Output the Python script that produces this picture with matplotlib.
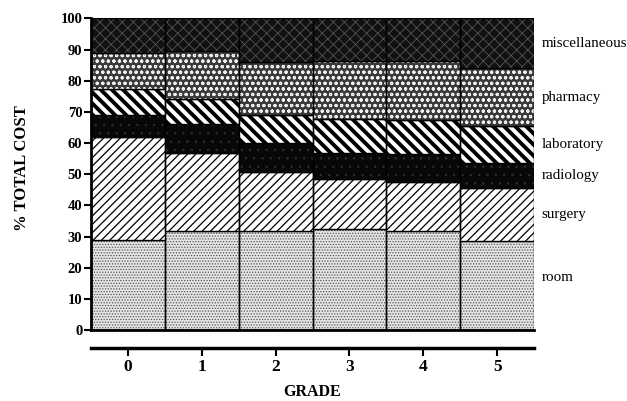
import numpy as np
import matplotlib
matplotlib.use("Agg")
import matplotlib.pyplot as plt

# Datos (% del coste total por grado)
grados = [0, 1, 2, 3, 4, 5]
room = [28.8, 31.9, 31.8, 32.4, 31.8, 28.6]
surgery = [33.2, 24.8, 18.9, 16.0, 15.7, 16.9]
radiology = [7.0, 9.4, 9.2, 8.3, 9.0, 8.0]
laboratory = [8.2, 8.0, 9.1, 10.9, 10.9, 11.9]
pharmacy = [11.6, 15.4, 16.9, 18.8, 18.8, 18.6]
miscellaneous = [11.2, 10.5, 14.1, 13.6, 13.8, 16.0]

nombres = ["room", "surgery", "radiology", "laboratory", "pharmacy", "miscellaneous"]
series = [room, surgery, radiology, laboratory, pharmacy, miscellaneous]

# Estilo de relleno de cada categoria: (color de fondo, trama, color de trama, grosor de trama)
estilos = [
    ("#e4e4e4", "......", "#555555", 0.6),
    ("white", "////", "black", 0.9),
    ("#080808", "..", "#303030", 0.5),
    ("white", "\\\\\\", "black", 2.8),
    ("#3a3a3a", "ooo", "#f0f0f0", 0.8),
    ("#111111", "xxx", "#555555", 0.6),
]

serif = "Liberation Serif"

fig = plt.figure(figsize=(6.27, 4.01), dpi=100)
ax = fig.add_axes([0.1447, 0.177, 0.7075, 0.777])

base = np.zeros(len(grados))
for nombre, valores, (fc, hatch, hc, hlw) in zip(nombres, series, estilos):
    valores = np.array(valores)
    with plt.rc_context({"hatch.linewidth": hlw, "hatch.color": hc}):
        barras = ax.bar(grados, valores, width=1.0, bottom=base, color=fc,
                        edgecolor=hc, hatch=hatch, linewidth=0)
        for b in barras:
            if hasattr(b, "set_hatch_linewidth"):
                b.set_hatch_linewidth(hlw)
    ax.bar(grados, valores, width=1.0, bottom=base, fill=False,
           edgecolor="black", linewidth=1.0)
    # Etiqueta a la derecha del ultimo grado
    medio = base[-1] + valores[-1] / 2
    if nombre == "room":
        medio += 2.4
    ax.annotate(nombre, xy=(grados[-1] + 0.5, medio), xytext=(5, 0),
                textcoords="offset points", va="center", ha="left",
                fontsize=10.8, family=serif, annotation_clip=False)
    base = base + valores

ax.set_xlim(-0.5, 5.5)
ax.set_ylim(0, 100)
ax.set_yticks(np.arange(0, 101, 10))
ax.set_xticks(grados)

for s in ["top", "right"]:
    ax.spines[s].set_visible(False)
ax.spines["left"].set_linewidth(2.0)
ax.spines["bottom"].set_linewidth(2.5)
ax.spines["bottom"].set_position(("outward", 13))
ax.axhline(0, color="black", linewidth=2.0, clip_on=False)

ax.tick_params(axis="y", direction="out", length=5, width=1.5, pad=1)
ax.tick_params(axis="x", direction="out", length=6, width=1.5, pad=2)
for t in ax.get_yticklabels():
    t.set_family(serif)
    t.set_fontweight("bold")
    t.set_fontsize(10.5)
for t in ax.get_xticklabels():
    t.set_family(serif)
    t.set_fontweight("bold")
    t.set_fontsize(12.5)

ax.set_ylabel("% TOTAL COST", family=serif, fontweight="bold", fontsize=12)
ax.set_xlabel("GRADE", family=serif, fontweight="bold", fontsize=11.5)
ax.yaxis.set_label_coords(-0.137, 0.52)
ax.xaxis.set_label_coords(0.5, -0.172)

fig.savefig("out.png", dpi=100)
